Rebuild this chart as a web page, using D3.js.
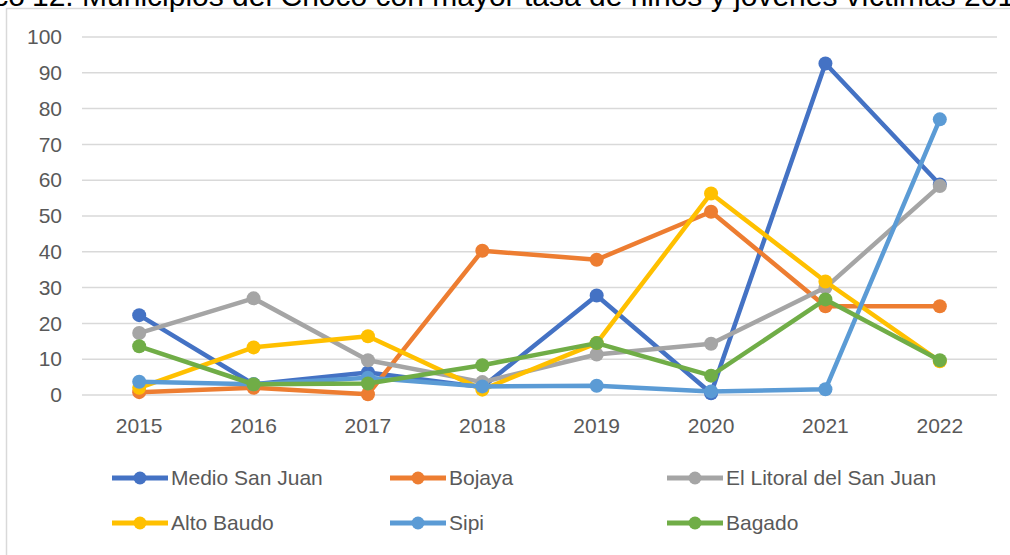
<!DOCTYPE html>
<html>
<head>
<meta charset="utf-8">
<script src="https://cdn.jsdelivr.net/npm/d3@7"></script>
<style>
  body { margin: 0; background: #fff; }
  text { font-family: "Liberation Sans", Arial, sans-serif; }
</style>
</head>
<body>
<script>
// DATA
const years = ["2015", "2016", "2017", "2018", "2019", "2020", "2021", "2022"];
const yTicks = [0, 10, 20, 30, 40, 50, 60, 70, 80, 90, 100];
const seriesNames = ["Medio San Juan", "Bojaya", "El Litoral del San Juan", "Alto Baudo", "Sipi", "Bagado"];
const seriesColors = ["#4472C4", "#ED7D31", "#A5A5A5", "#FFC000", "#5B9BD5", "#70AD47"];
const medioSanJuan = [22.3, 3.0, 6.3, 2.2, 27.8, 0.5, 92.6, 58.8];
const bojaya = [0.8, 2.0, 0.2, 40.3, 37.8, 51.2, 24.8, 24.8];
const litoral = [17.3, 27.0, 9.7, 3.6, 11.3, 14.3, 30.0, 58.4];
const altoBaudo = [2.0, 13.3, 16.4, 1.5, 14.5, 56.3, 31.7, 9.4];
const sipi = [3.7, 3.0, 4.8, 2.4, 2.6, 1.0, 1.6, 77.0];
const bagado = [13.6, 3.0, 3.2, 8.3, 14.5, 5.4, 26.7, 9.7];
const seriesValues = [medioSanJuan, bojaya, litoral, altoBaudo, sipi, bagado];

const width = 1010;
const height = 555;
const plot = { left: 82, right: 997, top: 37, bottom: 395 };
const textColor = "#595959";

const svg = d3.select("body")
  .append("svg")
  .attr("width", width)
  .attr("height", height);

// CHART FRAME
svg.append("path")
  .attr("d", `M6.5,${height} V8.5 H${width}`)
  .attr("fill", "none")
  .attr("stroke", "#d9d9d9")
  .attr("stroke-width", 1.5);

// TITLE (cut off at the top of the picture, like the reference)
svg.append("text")
  .attr("x", 25)
  .attr("y", 6)
  .attr("text-anchor", "end")
  .attr("font-size", 30)
  .attr("fill", "#000")
  .text("Gráfico");

svg.append("text")
  .attr("x", 32)
  .attr("y", 6)
  .attr("font-size", 30)
  .attr("fill", "#000")
  .text("12. Municipios del Chocó con mayor tasa de niños y jóvenes víctimas 2015-2022");

// SCALES
const xScale = d3.scaleBand()
  .domain(years)
  .range([plot.left, plot.right]);

const yScale = d3.scaleLinear()
  .domain([0, 100])
  .range([plot.bottom, plot.top]);

// GRID
svg.append("g")
  .selectAll("line")
  .data(yTicks)
  .enter()
  .append("line")
  .attr("x1", plot.left)
  .attr("x2", plot.right)
  .attr("y1", (d) => yScale(d))
  .attr("y2", (d) => yScale(d))
  .attr("stroke", "#d9d9d9")
  .attr("stroke-width", 1.5);

// AXES
const yAxis = d3.axisLeft(yScale).tickValues(yTicks).tickSize(0).tickPadding(0);
svg.append("g")
  .attr("transform", `translate(62,0)`)
  .call(yAxis)
  .call((g) => g.select(".domain").remove())
  .call((g) => g.selectAll("text")
    .attr("font-size", 21)
    .attr("fill", textColor)
    .attr("font-family", "Liberation Sans, Arial, sans-serif"));

const xAxis = d3.axisBottom(xScale).tickSize(0).tickPadding(0);
svg.append("g")
  .attr("transform", `translate(0,418)`)
  .call(xAxis)
  .call((g) => g.select(".domain").remove())
  .call((g) => g.selectAll("text")
    .attr("font-size", 21)
    .attr("fill", textColor)
    .attr("font-family", "Liberation Sans, Arial, sans-serif"));

// LINES
const xCenter = (i) => xScale(years[i]) + xScale.bandwidth() / 2;
const line = d3.line()
  .x((d, i) => xCenter(i))
  .y((d) => yScale(d));

seriesValues.forEach((values, s) => {
  const g = svg.append("g");
  g.append("path")
    .datum(values)
    .attr("d", line)
    .attr("fill", "none")
    .attr("stroke", seriesColors[s])
    .attr("stroke-width", 4.5)
    .attr("stroke-linejoin", "round");
  g.selectAll("circle")
    .data(values)
    .enter()
    .append("circle")
    .attr("cx", (d, i) => xCenter(i))
    .attr("cy", (d) => yScale(d))
    .attr("r", 7)
    .attr("fill", seriesColors[s]);
});

// LEGEND
const legendCols = [112, 390, 667];
const legendRows = [478, 523];
const legend = svg.append("g");
seriesNames.forEach((name, i) => {
  const x = legendCols[i % 3];
  const y = legendRows[Math.floor(i / 3)];
  legend.append("line")
    .attr("x1", x).attr("x2", x + 56)
    .attr("y1", y).attr("y2", y)
    .attr("stroke", seriesColors[i])
    .attr("stroke-width", 5);
  legend.append("circle")
    .attr("cx", x + 28).attr("cy", y)
    .attr("r", 6.5)
    .attr("fill", seriesColors[i]);
  legend.append("text")
    .attr("x", x + 59)
    .attr("y", y)
    .attr("dy", "0.35em")
    .attr("font-size", 21)
    .attr("fill", textColor)
    .text(name);
});
</script>
</body>
</html>
